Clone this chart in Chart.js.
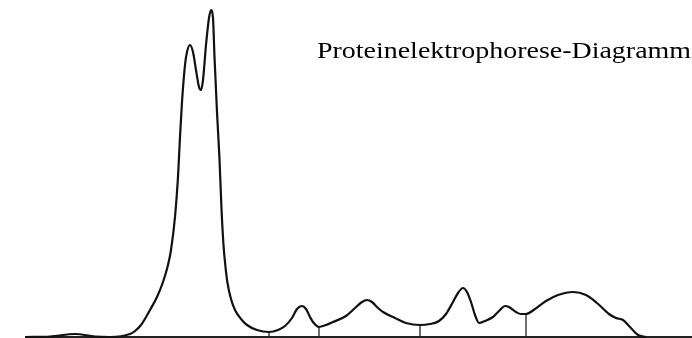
<!DOCTYPE html>
<html>
<head>
<meta charset="utf-8">
<script src="https://cdn.jsdelivr.net/npm/chart.js@4/dist/chart.umd.min.js"></script>
<style>
  html, body { margin: 0; padding: 0; background: #fff; }
  #wrap { width: 692px; height: 338px; }
</style>
</head>
<body>
<div id="wrap"><canvas id="myChart"></canvas></div>
<script>
const title = "Proteinelektrophorese-Diagramm";

// position along the strip / intensity above the baseline
const posX = [25, 50, 75, 95, 110, 130, 135, 141, 150, 157, 163, 168, 171, 175, 178,
  180, 182, 185, 187, 190, 193, 196, 199, 201, 203, 206, 209, 211, 213, 214.5, 217, 219.5,
  221.5, 223.5, 225.5, 227.5, 231, 235, 241, 247, 257, 269, 278, 285, 292, 297, 302, 306, 310, 313,
  319, 326, 333, 346, 355, 362, 367, 372, 378, 383, 395, 406, 420, 430, 439, 446,
  453, 458, 463, 467, 471, 475, 479, 485, 493, 500, 505, 509, 516, 521, 526, 535,
  546, 558, 573, 586, 597, 609, 616, 623, 630, 638, 646];
const intensity = [0, 0.5, 3, 0.5, 0, 3, 6, 12, 27, 40, 55, 72, 87, 120, 160,
  200, 235, 272, 285, 292, 285, 267, 250, 247, 257, 292, 319, 327, 319, 280, 225, 178,
  128, 92, 70, 54, 38, 27, 18, 12, 7, 5, 7, 11, 19, 28, 31, 28, 20, 15,
  10, 12, 15, 21, 29, 35, 37, 35, 29, 25, 19, 14, 12, 13, 16, 23,
  35, 44, 49, 45, 35, 22, 14, 16, 20, 27, 31, 30, 25, 23, 23, 28,
  36, 42, 45, 42, 34, 23, 19, 17, 10, 2, 0];

// fraction separators
const sepX = [269, 319, 420, 526];
const sepH = [5, 10, 12, 23];

const baseX = [25, 692];

const curve = posX.map((x, i) => ({ x: x, y: intensity[i] }));
const sepPoints = [];
sepX.forEach((x, i) => {
  sepPoints.push({ x: x, y: 0 }, { x: x, y: sepH[i] }, { x: x, y: null });
});

const titlePlugin = {
  id: "stretchTitle",
  afterDraw(chart) {
    const ctx = chart.ctx;
    ctx.save();
    ctx.font = "23px 'Liberation Serif', 'Times New Roman', serif";
    ctx.fillStyle = "#000";
    ctx.textBaseline = "alphabetic";
    const w = ctx.measureText(title).width;
    const sx = 374 / w;
    ctx.translate(317, 58);
    ctx.scale(sx, 1);
    ctx.fillText(title, 0, 0);
    ctx.restore();
  }
};

const config = {
  type: "line",
  data: {
    datasets: [
      {
        data: curve,
        borderColor: "#111",
        borderWidth: 2.2,
        pointRadius: 0,
        cubicInterpolationMode: "monotone",
        fill: false,
      },
      {
        data: baseX.map((x) => ({ x: x, y: 0 })),
        borderColor: "#222",
        borderWidth: 2,
        pointRadius: 0,
      },
      {
        data: sepPoints,
        borderColor: "#222",
        borderWidth: 1.3,
        pointRadius: 0,
        spanGaps: false,
      },
    ],
  },
  options: {
    animation: false,
    maintainAspectRatio: false,
    responsive: true,
    clip: false,
    layout: { padding: { left: 0, right: 0, top: 0, bottom: 1 } },
    scales: {
      x: { type: "linear", min: 0, max: 692, display: false },
      y: { min: 0, max: 337, display: false },
    },
    plugins: {
      legend: { display: false },
      tooltip: { enabled: false },
    },
  },
  plugins: [titlePlugin],
};

let myChart = new Chart(document.getElementById("myChart"), config);
</script>
</body>
</html>
